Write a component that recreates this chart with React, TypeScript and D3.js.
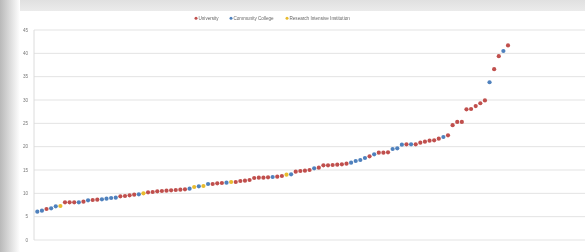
import React from "react";
import * as d3 from "d3";

const values: number[] = [
  6.07, 6.29, 6.64, 6.79, 7.21, 7.29, 8.07, 8.07, 8.07, 8.07,
  8.21, 8.5, 8.57, 8.64, 8.71, 8.86, 9.0, 9.07, 9.36, 9.43,
  9.57, 9.71, 9.79, 10.0, 10.21, 10.29, 10.43, 10.5, 10.57, 10.64,
  10.71, 10.79, 10.86, 11.0, 11.36, 11.5, 11.57, 12.0, 12.0, 12.14,
  12.21, 12.29, 12.43, 12.43, 12.64, 12.71, 12.86, 13.29, 13.36, 13.36,
  13.43, 13.5, 13.57, 13.71, 14.0, 14.07, 14.64, 14.79, 14.86, 15.0,
  15.36, 15.5, 16.0, 16.0, 16.07, 16.14, 16.21, 16.36, 16.57, 16.93,
  17.14, 17.57, 17.93, 18.36, 18.71, 18.71, 18.79, 19.5, 19.64, 20.43,
  20.5, 20.5, 20.5, 20.86, 21.07, 21.29, 21.36, 21.71, 22.07, 22.43,
  24.6, 25.3, 25.3, 28.0, 28.07, 28.7, 29.3, 29.9, 33.8, 36.6,
  39.4, 40.5, 41.7,
];

// U = University, C = Community College, R = Research Intensive Institution
const types: string[] = (
  "CCUCCRUUUC" +
  "UCUUCCCCUU" +
  "UUCRUUUUUU" +
  "UUUCRCRCUU" +
  "UCRUUUUUUU" +
  "UCUURCUUUU" +
  "CUUUUUUUCC" +
  "CCUCUUUCCC" +
  "UCUUUUUUCU" +
  "UUUUUUUUCU" +
  "UCU"
).split("");

const seriesNames: string[] = ["University", "Community College", "Research Intensive Institution"];
const seriesKeys: string[] = ["U", "C", "R"];
const seriesColors: string[] = ["#c0504d", "#4f81bd", "#e8bb2e"];
const yTicks: number[] = [0, 5, 10, 15, 20, 25, 30, 35, 40, 45];

export default function App() {
  const W = 585;
  const H = 252;
  const x = d3.scaleLinear().domain([1, values.length]).range([37.3, 508]);
  const y = d3.scaleLinear().domain([0, 45]).range([240, 30]);
  const color = d3.scaleOrdinal<string, string>().domain(seriesKeys).range(seriesColors);

  const legendX = [196, 231, 287];

  return (
    <svg width={W} height={H} style={{ position: "absolute", left: 0, top: 0 }}>
      <defs>
        <linearGradient id="leftShade" x1="0" x2="1" y1="0" y2="0">
          <stop offset="0" stopColor="#b9b9b9" />
          <stop offset="0.5" stopColor="#dcdcdc" />
          <stop offset="1" stopColor="#ffffff" />
        </linearGradient>
        <linearGradient id="topShade" x1="0" x2="0" y1="0" y2="1">
          <stop offset="0" stopColor="#e0e0e0" />
          <stop offset="1" stopColor="#ebebeb" />
        </linearGradient>
        <filter id="soft" x="-5%" y="-5%" width="110%" height="110%">
          <feGaussianBlur stdDeviation="0.35" />
        </filter>
      </defs>
      <rect x={0} y={0} width={W} height={H} fill="#ffffff" />
      <rect x={0} y={0} width={W} height={11} fill="url(#topShade)" />
      <rect x={0} y={0} width={20} height={H} fill="url(#leftShade)" />
      <g filter="url(#soft)">
        {yTicks.map((t) => (
          <line key={"g" + t} x1={34} x2={W} y1={y(t)} y2={y(t)} stroke="#e3e3e3" strokeWidth={1} />
        ))}
        <line x1={34} x2={34} y1={y(45)} y2={y(0)} stroke="#dcdcdc" strokeWidth={1} />
        {yTicks.map((t) => (
          <text
            key={"t" + t}
            x={28}
            y={y(t)}
            dy="0.35em"
            textAnchor="end"
            fontSize={4.6}
            fontFamily="Liberation Sans, Arial, sans-serif"
            fill="#777777"
          >
            {t}
          </text>
        ))}
        {seriesNames.map((n, i) => (
          <g key={n}>
            <circle cx={legendX[i]} cy={18.3} r={1.5} fill={seriesColors[i]} />
            <text
              x={legendX[i] + 2.5}
              y={18.3}
              dy="0.35em"
              fontSize={4.6}
              fontFamily="Liberation Sans, Arial, sans-serif"
              fill="#666666"
            >
              {n}
            </text>
          </g>
        ))}
        {values.map((v, i) => (
          <circle key={i} cx={x(i + 1)} cy={y(v)} r={2.1} fill={color(types[i])} />
        ))}
      </g>
    </svg>
  );
}
